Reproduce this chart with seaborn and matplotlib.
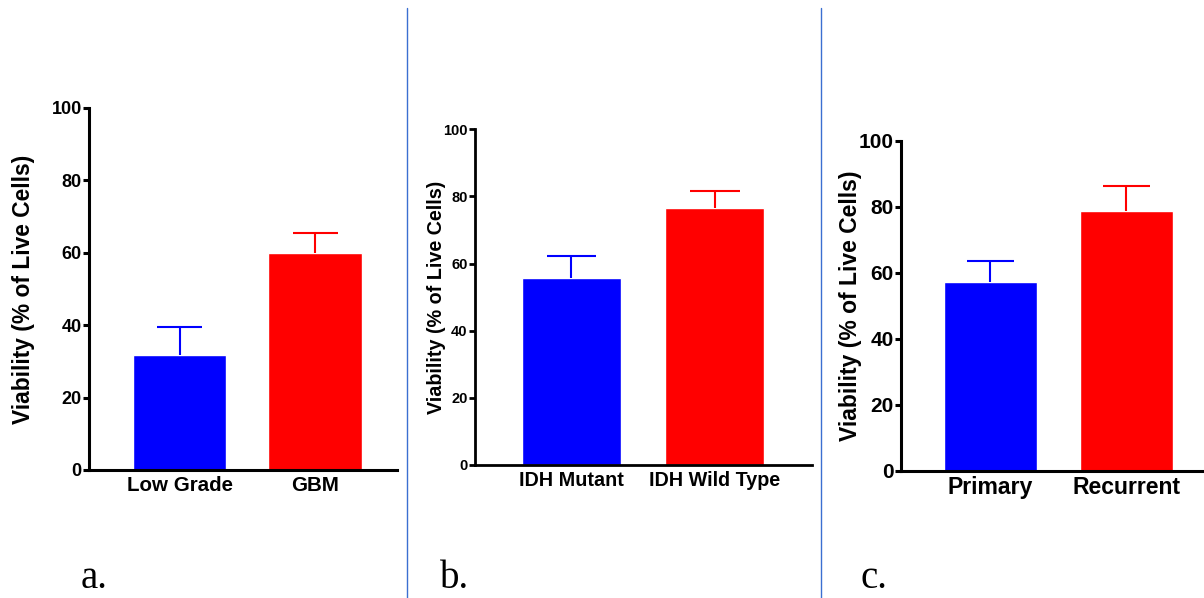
import matplotlib

matplotlib.use("Agg")

import matplotlib.pyplot as plt
import pandas as pd
import seaborn as sns
from matplotlib.lines import Line2D

# panel a: tumour grade
groups_a = ["Low Grade", "GBM"]
means_a = [31.8, 59.9]
sem_a = [7.8, 5.7]

# panel b: IDH status
groups_b = ["IDH Mutant", "IDH Wild Type"]
means_b = [55.6, 76.5]
sem_b = [6.8, 5.1]

# panel c: primary vs recurrent
groups_c = ["Primary", "Recurrent"]
means_c = [57.2, 78.7]
sem_c = [6.4, 7.7]

y_ticks = [0, 20, 40, 60, 80, 100]
bar_colors = ["#0000ff", "#ff0000"]
panel_letters = ["a.", "b.", "c."]

sns.set_theme(style="ticks")
plt.rcParams["font.family"] = ["Liberation Sans", "DejaVu Sans"]
plt.rcParams.update({
    "text.color": "black",
    "axes.labelcolor": "black",
    "axes.edgecolor": "black",
    "xtick.color": "black",
    "ytick.color": "black",
})

W, H = 1204, 598
fig = plt.figure(figsize=(W / 100, H / 100), dpi=100)


def px_rect(x0, x1, y_top, y_bot):
    return [x0 / W, 1 - y_bot / H, (x1 - x0) / W, (y_bot - y_top) / H]


panels = [
    dict(groups=groups_a, means=means_a, sem=sem_a, rect=px_rect(89, 397, 108, 470),
         xlim=(-0.668, 1.605), ytick_size=13, xtick_size=14.8, ylabel_size=16.4,
         label_x=-0.175, spine=2.2, cap=0.166),
    dict(groups=groups_b, means=means_b, sem=sem_b, rect=px_rect(475, 812, 129.3, 465),
         xlim=(-0.672, 1.676), ytick_size=10.5, xtick_size=14.2, ylabel_size=14.2,
         label_x=-0.085, spine=2.0, cap=0.171),
    dict(groups=groups_c, means=means_c, sem=sem_c, rect=px_rect(901, 1204, 140.7, 470.7),
         xlim=(-0.658, 1.57), ytick_size=15, xtick_size=16.6, ylabel_size=16.5,
         label_x=-0.13, spine=2.2, cap=0.171),
]

for p in panels:
    ax = fig.add_axes(p["rect"])
    df = pd.DataFrame({"group": p["groups"], "viability": p["means"]})
    sns.barplot(data=df, x="group", y="viability", hue="group", palette=bar_colors,
                width=0.69, saturation=1, errorbar=None, legend=False, ax=ax)
    # upper-only SEM bars
    for i, (m, s) in enumerate(zip(p["means"], p["sem"])):
        ax.vlines(i, m, m + s, color=bar_colors[i], lw=1.5)
        ax.hlines(m + s, i - p["cap"], i + p["cap"], color=bar_colors[i], lw=1.5)

    ax.set_xlim(*p["xlim"])
    ax.set_ylim(0, 100)
    ax.set_yticks(y_ticks)
    ax.spines[["top", "right"]].set_visible(False)
    for side in ["left", "bottom"]:
        ax.spines[side].set_linewidth(p["spine"])
    ax.tick_params(axis="y", length=4.3, width=p["spine"], pad=1, labelsize=p["ytick_size"])
    ax.tick_params(axis="x", length=0, pad=4, labelsize=p["xtick_size"])
    for lbl in ax.get_xticklabels() + ax.get_yticklabels():
        lbl.set_fontweight("bold")
    ax.set_xlabel("")
    ax.set_ylabel("Viability (% of Live Cells)", fontsize=p["ylabel_size"], fontweight="bold")
    ax.yaxis.set_label_coords(p["label_x"], 0.5)

# separators between panels
for x in [407, 821]:
    fig.add_artist(Line2D([x / W, x / W], [0, 1 - 8 / H], transform=fig.transFigure,
                          color="#3b6fd1", lw=1))

for letter, x in zip(panel_letters, [81, 440, 860]):
    fig.text(x / W, 1 - 597 / H, letter, family=["Liberation Serif", "DejaVu Serif"],
             fontsize=28, va="bottom")

fig.savefig("out.png", dpi=100)
